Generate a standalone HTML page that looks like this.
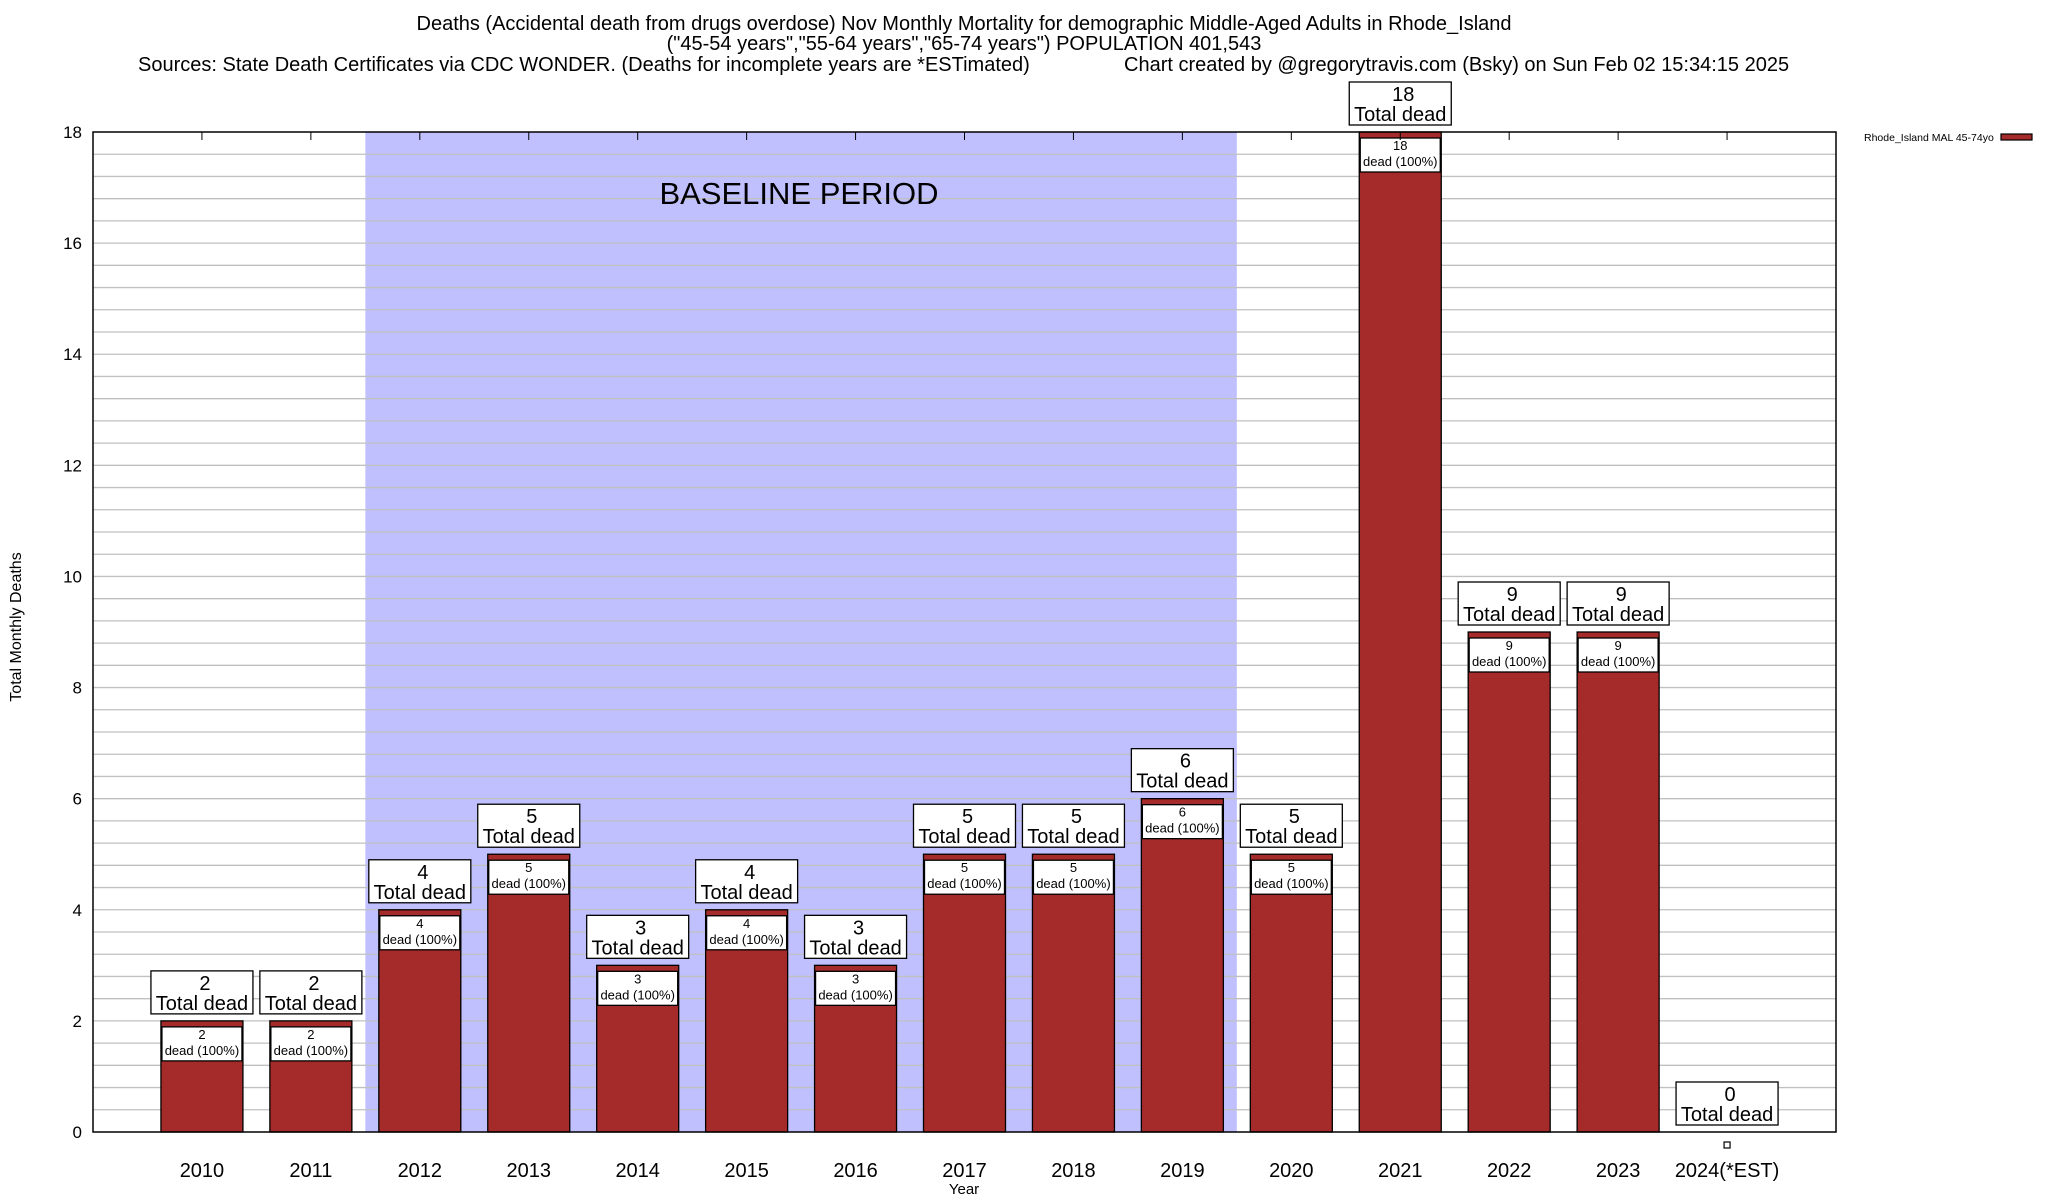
<!DOCTYPE html>
<html><head><meta charset="utf-8"><style>
html,body{margin:0;padding:0;background:#fff;}
svg{display:block;font-family:"Liberation Sans",sans-serif;}
</style></head><body>
<svg id="chart" width="2048" height="1200" xmlns="http://www.w3.org/2000/svg">
<g id="titles" font-size="20" fill="#000">
<text x="964" y="30" text-anchor="middle">Deaths (Accidental death from drugs overdose) Nov Monthly Mortality for demographic Middle-Aged Adults in Rhode_Island</text>
<text x="964" y="50" text-anchor="middle">("45-54 years","55-64 years","65-74 years") POPULATION 401,543</text>
<text x="138" y="71">Sources: State Death Certificates via CDC WONDER. (Deaths for incomplete years are *ESTimated)</text>
<text x="1124" y="71">Chart created by @gregorytravis.com (Bsky) on Sun Feb 02 15:34:15 2025</text>
</g>
<g id="plot"></g>
</svg>
<script>
const categories=["2010","2011","2012","2013","2014","2015","2016","2017","2018","2019","2020","2021","2022","2023","2024(*EST)"];
const deaths=[2,2,4,5,3,4,3,5,5,6,5,18,9,9,0];
const yTicks=[0,2,4,6,8,10,12,14,16,18];
const baselineRange=[1.5,9.5];
const NS="http://www.w3.org/2000/svg";
const L=93,R=1836,T=132,B=1132,yMax=18;
const X=i=>L+(i+1)*(R-L)/16;
const Y=v=>B-v*(B-T)/yMax;
const bw=82;
const g=document.getElementById('plot');
function el(tag,a,parent){const e=document.createElementNS(NS,tag);for(const k in a)e.setAttribute(k,a[k]);(parent||g).appendChild(e);return e;}
function txt(s,a,parent){const e=el('text',a,parent);e.textContent=s;return e;}
const sh=el('rect',{x:X(baselineRange[0]),y:T,width:X(baselineRange[1])-X(baselineRange[0]),height:B-T,fill:'#c0c0ff'});


for(let v=0.4;v<yMax-0.01;v+=0.4){const ln=el('line',{x1:L,x2:R,y1:Y(v),y2:Y(v),stroke:'#c0c0c0','stroke-width':1.3});

}
const bt=txt('BASELINE PERIOD',{x:799,y:204,'font-size':31,'text-anchor':'middle'});


yTicks.forEach(v=>{const t=txt(String(v),{x:82,y:Y(v)+6,'font-size':17,'text-anchor':'end'});

});
categories.forEach((c,i)=>{
 const cx=X(i),v=deaths[i];
 if(v>0){
  const r=el('rect',{x:cx-bw/2,y:Y(v),width:bw,height:Y(0)-Y(v),fill:'#a52a2a',stroke:'#000','stroke-width':1.3});
  
  
  const ib=el('rect',{x:cx-bw/2+1,y:Y(v)+6,width:bw-2,height:34,fill:'#fff',stroke:'#000','stroke-width':1.3});
  
  
  const t1=txt(String(v),{x:cx,y:Y(v)+18,'font-size':13,'text-anchor':'middle'});
  
  
  const t2=txt('dead (100%)',{x:cx,y:Y(v)+34,'font-size':13,'text-anchor':'middle'});
  
  
 } else {
  const m=el('rect',{x:cx-3,y:B+10,width:6,height:6,fill:'#fff',stroke:'#000','stroke-width':1.2});
  
  
 }
 const top=v>0?Y(v)-50:B-50;
 const ob=el('rect',{x:cx-51,y:top,width:102,height:43,fill:'#fff',stroke:'#000','stroke-width':1.3});
 
 
 const o1=txt(String(v),{x:cx+3,y:top+19,'font-size':20,'text-anchor':'middle'});
 
 
 const o2=txt('Total dead',{x:cx,y:top+39,'font-size':20,'text-anchor':'middle'});
 
 
 const xl=txt(c,{x:cx,y:1177,'font-size':20,'text-anchor':'middle'});
 
 
 const tk=el('line',{x1:cx,x2:cx,y1:T,y2:T+8,stroke:'#000','stroke-width':1});
 
 
});
const fr=el('rect',{x:L,y:T,width:R-L,height:B-T,fill:'none',stroke:'#000','stroke-width':1.5});


const yt=txt('Total Monthly Deaths',{x:0,y:0,'font-size':16,'text-anchor':'middle',transform:'translate(21,627) rotate(-90)'});


const xt=txt('Year',{x:964,y:1194,'font-size':15,'text-anchor':'middle'});


const lt=txt('Rhode_Island MAL 45-74yo',{x:1864,y:141,'font-size':10.5});


const ls=el('rect',{x:2001,y:134,width:31,height:6,fill:'#a52a2a',stroke:'#000','stroke-width':1.2});


</script>
</body></html>
